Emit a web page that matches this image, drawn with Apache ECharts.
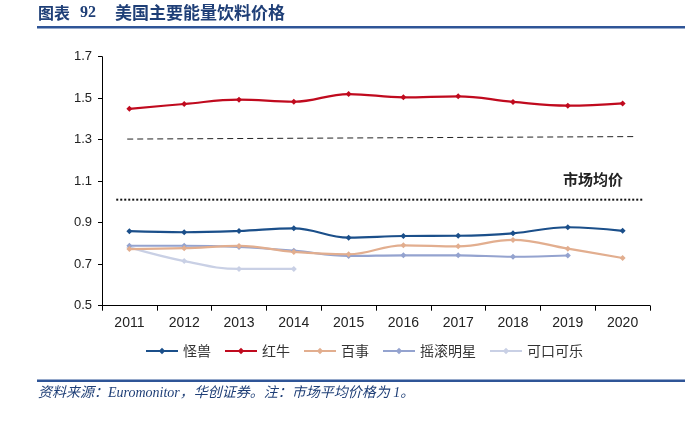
<!DOCTYPE html>
<html><head><meta charset="utf-8">
<script src="https://cdn.jsdelivr.net/npm/echarts@6/dist/echarts.min.js"></script>
<style>html,body{margin:0;padding:0;background:#fff}#c{width:697px;height:423px}</style>
</head><body><div id="c"></div>
<script>
var years = ['2011','2012','2013','2014','2015','2016','2017','2018','2019','2020'];
var monster = [0.859,0.854,0.860,0.873,0.828,0.836,0.837,0.849,0.878,0.861];
var redbull = [1.449,1.472,1.493,1.483,1.520,1.504,1.509,1.482,1.464,1.475];
var pepsi = [0.773,0.777,0.788,0.759,0.748,0.791,0.786,0.817,0.775,0.730];
var rockstar = [0.789,0.789,0.783,0.765,0.740,0.743,0.743,0.736,0.742,null];
var coke = [0.781,0.715,0.677,0.677,null,null,null,null,null,null];
var dashedRef = [[0.46,1.303],[9.73,1.315]];
var marketAvg = [[0.26,1.011],[9.87,1.011]];
var yTicks = {min:0.5,max:1.7,interval:0.2};

var chart = echarts.init(document.getElementById('c'));
var font = 'Arial, "Liberation Sans", sans-serif';
var cjk = '"Noto Sans CJK SC", sans-serif';
function ls(name,data,color,z){
  return {name:name,type:'line',data:data,smooth:0.4,symbol:'diamond',symbolSize:6,
    lineStyle:{color:color,width:2.2},itemStyle:{color:color},z:z,connectNulls:false};
}
chart.setOption({
  animation:false,
  graphic:[
    {type:'text',left:38,top:5,style:{text:'图表',font:'bold 16px '+cjk,fill:'#1f3f77'}},
    {type:'text',left:80,top:5,style:{text:'92',font:'bold 16px "Liberation Serif", serif',fill:'#1f3f77'}},
    {type:'text',left:115,top:4,style:{text:'美国主要能量饮料价格',font:'bold 17px '+cjk,fill:'#1f3f77'}},
    {type:'rect',shape:{x:37,y:26,width:648,height:2.5},style:{fill:'#2f5597'}},
    {type:'rect',shape:{x:37,y:379.5,width:648,height:2.5},style:{fill:'#2f5597'}},
    {type:'text',left:38,top:386,style:{text:'资料来源：Euromonitor，华创证券。注：市场平均价格为 1。',font:'italic 14px "Liberation Serif", '+cjk,fill:'#1f3f77'}},
    {type:'text',left:563,top:172,style:{text:'市场均价',font:'bold 15px '+cjk,fill:'#222'}}
  ],
  grid:{left:102,right:47,top:56.7,bottom:117.3},
  legend:{top:339,left:140,itemWidth:32,itemHeight:8,itemGap:13,
    textStyle:{fontFamily:cjk,fontSize:14,color:'#333'},
    data:['怪兽','红牛','百事','摇滚明星','可口可乐']},
  xAxis:[
    {type:'category',data:years,boundaryGap:true,
     axisLine:{lineStyle:{color:'#000',width:1}},
     axisTick:{show:true,alignWithLabel:false,length:5,lineStyle:{color:'#000'}},
     axisLabel:{color:'#222',fontSize:14,fontFamily:font,margin:10}},
    {type:'value',min:0,max:10,show:false}
  ],
  yAxis:{type:'value',min:yTicks.min,max:yTicks.max,interval:yTicks.interval,
    axisLine:{show:true,lineStyle:{color:'#000'}},
    axisTick:{show:true,length:4,lineStyle:{color:'#000'}},
    splitLine:{show:false},
    axisLabel:{color:'#222',fontSize:13,fontFamily:font,margin:10,formatter:function(v){return v.toFixed(1);}}},
  series:[
    {type:'line',xAxisIndex:1,data:dashedRef,symbol:'none',lineStyle:{color:'#222',width:1,type:[6,4]},silent:true,z:1},
    {type:'line',xAxisIndex:1,data:marketAvg,symbol:'none',lineStyle:{color:'#111',width:2,type:[2,2]},silent:true,z:1},
    ls('可口可乐',coke,'#c9d0e5',2),
    ls('摇滚明星',rockstar,'#94a3cf',3),
    ls('百事',pepsi,'#e2ae8f',3),
    ls('红牛',redbull,'#c00a1e',4),
    ls('怪兽',monster,'#1b4f8a',5)
  ]
});
</script></body></html>
